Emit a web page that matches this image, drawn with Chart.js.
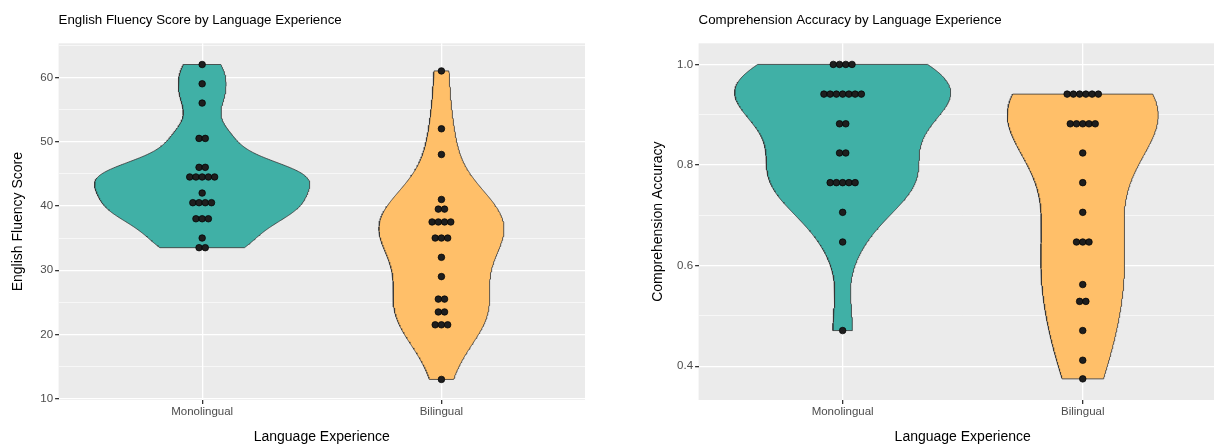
<!DOCTYPE html>
<html>
<head>
<meta charset="utf-8">
<script src="https://cdn.jsdelivr.net/npm/chart.js@4.4.1/dist/chart.umd.min.js"></script>
<style>
    html, body { margin: 0; padding: 0; background: #fff; overflow: hidden; width: 1214px; height: 444px; }
    .panel { position: absolute; top: 0; width: 600px; height: 452px; }
</style>
</head>
<body>
<div class="panel" style="left:0"><canvas id="fluencyChart"></canvas></div>
<div class="panel" style="left:640px"><canvas id="accuracyChart"></canvas></div>
<script>
// Groups on the x axis
const groups = ['Monolingual', 'Bilingual'];

// English fluency scores (dot positions)
const fluencyMono = [62, 59, 56, 50.5, 50.5, 46, 46, 44.5, 44.5, 44.5, 44.5, 44.5, 42,
    40.5, 40.5, 40.5, 40.5, 38, 38, 38, 35, 33.5, 33.5];
const fluencyBi = [61, 52, 48, 41, 39.5, 39.5, 37.5, 37.5, 37.5, 37.5, 35, 35, 35, 32, 29,
    25.5, 25.5, 23.5, 23.5, 21.5, 21.5, 21.5, 13];

// Comprehension accuracy
const accuracyMono = [1, 1, 1, 1, 0.941, 0.941, 0.941, 0.941, 0.941, 0.941, 0.941,
    0.882, 0.882, 0.824, 0.824, 0.765, 0.765, 0.765, 0.765, 0.765, 0.706, 0.647, 0.471];
const accuracyBi = [0.941, 0.941, 0.941, 0.941, 0.941, 0.941, 0.882, 0.882, 0.882, 0.882, 0.882,
    0.824, 0.765, 0.706, 0.647, 0.647, 0.647, 0.5625, 0.529, 0.529, 0.471, 0.412, 0.375];

// Tick labels
const fluencyTicks = [10, 20, 30, 40, 50, 60];
const accuracyTicks = [0.4, 0.6, 0.8, 1.0];

const teal = '#40B0A6';
const orange = '#FFBF69';
const FONT = '"Liberation Sans", Arial, sans-serif';

// --- kernel density like R's density() with bw.nrd0, trimmed to the data range ---
function quantile(sorted, p) {
    const h = (sorted.length - 1) * p;
    const lo = Math.floor(h);
    const hi = Math.min(lo + 1, sorted.length - 1);
    return sorted[lo] + (h - lo) * (sorted[hi] - sorted[lo]);
}

function bwNrd0(values) {
    const n = values.length;
    const mean = values.reduce((a, b) => a + b, 0) / n;
    const sd = Math.sqrt(values.reduce((a, b) => a + (b - mean) ** 2, 0) / (n - 1));
    const sorted = [...values].sort((a, b) => a - b);
    const iqr = quantile(sorted, 0.75) - quantile(sorted, 0.25);
    let lo = Math.min(sd, iqr / 1.34);
    if (!lo) lo = sd || 1;
    return 0.9 * lo * Math.pow(n, -0.2);
}

function density(values, steps = 256) {
    const bw = bwNrd0(values);
    const min = Math.min(...values);
    const max = Math.max(...values);
    const out = [];
    for (let i = 0; i < steps; i++) {
        const y = min + (max - min) * i / (steps - 1);
        let d = 0;
        values.forEach(v => {
            const z = (y - v) / bw;
            d += Math.exp(-0.5 * z * z);
        });
        out.push({ y: y, d: d / (values.length * bw * Math.sqrt(2 * Math.PI)) });
    }
    return out;
}

// Violin outline (closed polygon) for each group, scale = "area"
function violinData(valueSets) {
    const dens = valueSets.map(v => density(v));
    const maxD = Math.max(...dens.map(ds => Math.max(...ds.map(p => p.d))));
    return dens.map((ds, gi) => {
        const pos = gi + 1;
        const right = ds.map(p => ({ x: pos + 0.45 * p.d / maxD, y: p.y }));
        const left = ds.slice().reverse().map(p => ({ x: pos - 0.45 * p.d / maxD, y: p.y }));
        const pts = right.concat(left);
        pts.push(pts[0]);
        return pts;
    });
}

// Dots stacked sideways, centred on the group
const dotStep = 0.026;
function dotData(values, pos) {
    const counts = new Map();
    values.forEach(v => counts.set(v, (counts.get(v) || 0) + 1));
    const pts = [];
    counts.forEach((n, v) => {
        for (let k = 0; k < n; k++) {
            pts.push({ x: pos + (k - (n - 1) / 2) * dotStep, y: v });
        }
    });
    return pts;
}

// Title drawn at the left edge of the panel, like ggplot
const panelTitle = {
    id: 'panelTitle',
    afterDraw(chart, args, opts) {
        const { ctx, chartArea } = chart;
        ctx.save();
        ctx.font = '13.3px ' + FONT;
        ctx.fillStyle = '#000';
        ctx.textBaseline = 'middle';
        ctx.fillText(opts.text, chartArea.left, 20);
        ctx.restore();
    }
};

// Grey panel background
const panelBg = {
    id: 'panelBg',
    beforeDraw(chart) {
        const { ctx, chartArea } = chart;
        ctx.save();
        ctx.fillStyle = '#EBEBEB';
        ctx.fillRect(chartArea.left, chartArea.top, chartArea.right - chartArea.left, chartArea.bottom - chartArea.top);
        ctx.restore();
    }
};

function makeChart(canvasId, title, yTitle, valueSets, yMin, yMax, yStep, isMajor, fmt, padRight) {
    const violins = violinData(valueSets);
    const colors = [teal, orange];
    const datasets = [];
    violins.forEach((pts, i) => {
        datasets.push({
            data: pts,
            showLine: true,
            fill: 'shape',
            backgroundColor: colors[i],
            borderColor: '#333333',
            borderWidth: 0.8,
            pointRadius: 0,
            tension: 0,
            order: 2
        });
    });
    valueSets.forEach((vals, i) => {
        datasets.push({
            data: dotData(vals, i + 1),
            showLine: false,
            pointRadius: 3.3,
            backgroundColor: '#1E1E1E',
            borderColor: '#000',
            borderWidth: 0.7,
            order: 1
        });
    });

    return new Chart(document.getElementById(canvasId), {
        type: 'scatter',
        data: { datasets: datasets },
        plugins: [panelBg, panelTitle],
        options: {
            responsive: true,
            maintainAspectRatio: false,
            animation: false,
            layout: { padding: { left: 0, top: 43.3, right: padRight, bottom: 0 } },
            plugins: {
                legend: { display: false },
                tooltip: { enabled: false },
                panelTitle: { text: title }
            },
            scales: {
                x: {
                    type: 'linear',
                    min: 0.4,
                    max: 2.6,
                    afterBuildTicks: s => { s.ticks = groups.map((g, i) => ({ value: i + 1 })); },
                    afterFit: s => { s.height = 52; },
                    ticks: {
                        callback: v => groups[v - 1],
                        color: '#4D4D4D',
                        font: { family: FONT, size: 11.5 },
                        padding: 1,
                        maxRotation: 0
                    },
                    grid: { color: '#FFFFFF', lineWidth: 1.3, tickColor: '#333333', tickLength: 4, drawTicks: true },
                    border: { display: false },
                    title: {
                        display: true,
                        text: 'Language Experience',
                        color: '#000',
                        font: { family: FONT, size: 14 },
                        padding: { top: 0, bottom: 6.6 }
                    }
                },
                y: {
                    min: yMin,
                    max: yMax,
                    afterFit: s => { s.width = 58.6; },
                    ticks: {
                        stepSize: yStep,
                        includeBounds: false,
                        autoSkip: false,
                        callback: v => isMajor(v) ? fmt(v) : '',
                        color: '#4D4D4D',
                        font: { family: FONT, size: 11.5 },
                        padding: 2
                    },
                    grid: {
                        color: '#FFFFFF',
                        lineWidth: c => isMajor(c.tick.value) ? 1.3 : 0.6,
                        tickColor: c => isMajor(c.tick.value) ? '#333333' : 'rgba(0,0,0,0)',
                        tickLength: 3.5,
                        drawTicks: true
                    },
                    border: { display: false },
                    title: {
                        display: true,
                        text: yTitle,
                        color: '#000',
                        font: { family: FONT, size: 14 },
                        padding: { top: 9.5, bottom: 0 }
                    }
                }
            }
        }
    });
}

makeChart('fluencyChart', 'English Fluency Score by Language Experience', 'English Fluency Score',
    [fluencyMono, fluencyBi], 9.8, 65.3, 5,
    v => fluencyTicks.includes(Math.round(v)) && Math.abs(v - Math.round(v)) < 1e-6,
    v => String(Math.round(v)), 15);

makeChart('accuracyChart', 'Comprehension Accuracy by Language Experience', 'Comprehension Accuracy',
    [accuracyMono, accuracyBi], 0.333, 1.042, 0.1,
    v => accuracyTicks.some(t => Math.abs(t - v) < 1e-6),
    v => v.toFixed(1), 13.2);
</script>
</body>
</html>
